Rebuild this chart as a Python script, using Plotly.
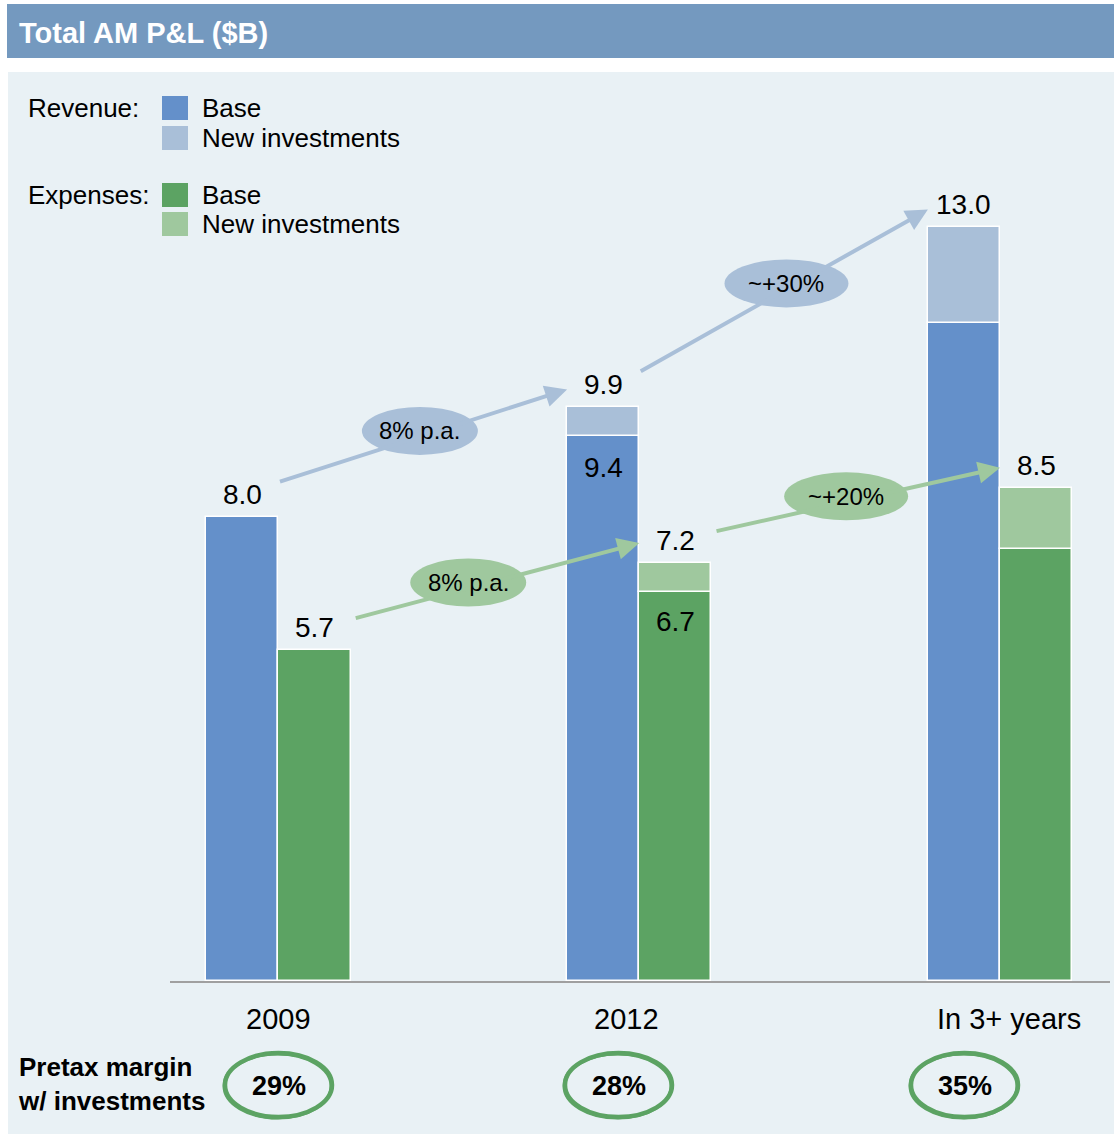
import plotly.graph_objects as go

# ---- data ($B) ----
periods = ["2009", "2012", "In 3+ years"]
revenue_base = [8.0, 9.4, 11.35]
revenue_new = [0.0, 0.5, 1.65]
expenses_base = [5.7, 6.7, 7.45]
expenses_new = [0.0, 0.5, 1.05]
revenue_growth = ["8% p.a.", "~+30%"]
expenses_growth = ["8% p.a.", "~+20%"]
pretax_margin = ["29%", "28%", "35%"]

# ---- styling ----
W, H = 1114, 1134
FONT = "Arial, Liberation Sans, sans-serif"
BLUE, BLUE_LT = "#6490CA", "#A9BFD8"
GREEN, GREEN_LT = "#5CA363", "#9FC89E"
HEADER = "#7499BF"
PANEL = "#E9F1F5"
BAR_W = 0.2
REV_OFF, EXP_OFF = -0.1, 0.1


def px(x):
    return x / W


def py(y):
    return 1 - y / H


rev_total = [round(b + n, 2) for b, n in zip(revenue_base, revenue_new)]
exp_total = [round(b + n, 2) for b, n in zip(expenses_base, expenses_new)]
idx = list(range(len(periods)))


def nz(vals):
    return [v if v else None for v in vals]


fig = go.Figure()
bar_line = dict(color="white", width=1.5)
fig.add_bar(x=[i + REV_OFF for i in idx], y=revenue_base, width=BAR_W,
            marker=dict(color=BLUE, line=bar_line), name="Revenue base")
fig.add_bar(x=[i + REV_OFF for i in idx], y=nz(revenue_new), width=BAR_W,
            marker=dict(color=BLUE_LT, line=bar_line), name="Revenue new")
fig.add_bar(x=[i + EXP_OFF for i in idx], y=expenses_base, width=BAR_W,
            marker=dict(color=GREEN, line=bar_line), name="Expenses base")
fig.add_bar(x=[i + EXP_OFF for i in idx], y=nz(expenses_new), width=BAR_W,
            marker=dict(color=GREEN_LT, line=bar_line), name="Expenses new")

shapes = []
annotations = []

# background panel and header bar
shapes.append(dict(type="rect", xref="paper", yref="paper", x0=px(8), x1=px(W),
                   y0=py(H), y1=py(72), fillcolor=PANEL, line_width=0, layer="below"))
shapes.append(dict(type="rect", xref="paper", yref="paper", x0=px(7), x1=px(W),
                   y0=py(58), y1=py(4), fillcolor=HEADER, line_width=0, layer="below"))
annotations.append(dict(xref="paper", yref="paper", x=px(17), y=py(33), text="<b>Total AM P&L ($B)</b>",
                        showarrow=False, xanchor="left", yanchor="middle",
                        font=dict(family=FONT, size=29, color="white")))

# legend
legend_rows = [
    ("Revenue:", [(BLUE, "Base", 108), (BLUE_LT, "New investments", 138)]),
    ("Expenses:", [(GREEN, "Base", 195), (GREEN_LT, "New investments", 224)]),
]
for group, items in legend_rows:
    annotations.append(dict(xref="paper", yref="paper", x=px(26), y=py(items[0][2]), text=group,
                            showarrow=False, xanchor="left", yanchor="middle",
                            font=dict(family=FONT, size=26, color="black")))
    for color, label, yc in items:
        shapes.append(dict(type="rect", xref="paper", yref="paper", x0=px(162), x1=px(188),
                           y0=py(yc + 12), y1=py(yc - 12), fillcolor=color, line_width=0))
        annotations.append(dict(xref="paper", yref="paper", x=px(200), y=py(yc), text=label,
                                showarrow=False, xanchor="left", yanchor="middle",
                                font=dict(family=FONT, size=26, color="black")))


# growth arrows with their labels
def growth_arrows(totals, off, tail_dx, tail_dy, head_dx, head_dy, labels, ts, color):
    for i, lab in enumerate(labels):
        x0 = i + off + tail_dx
        y0 = totals[i] + tail_dy
        x1 = i + 1 + off + head_dx
        y1 = totals[i + 1] + head_dy
        annotations.append(dict(x=x1, y=y1, ax=x0, ay=y0, xref="x", yref="y", axref="x", ayref="y",
                                text="", showarrow=True, arrowhead=2, arrowsize=1.1,
                                arrowwidth=4, arrowcolor=color, standoff=0, startstandoff=0))
        t = ts[i]
        cx = x0 + t * (x1 - x0)
        cy = y0 + t * (y1 - y0) + 0.1
        hx = (62 if len(lab) < 7 else 58) / 361
        hy = 24 / 58
        shapes.append(dict(type="circle", xref="x", yref="y", x0=cx - hx, x1=cx + hx,
                           y0=cy - hy, y1=cy + hy, fillcolor=color, line_width=0))
        annotations.append(dict(x=cx, y=cy, xref="x", yref="y", text=lab, showarrow=False,
                                font=dict(family=FONT, size=24, color="black")))


growth_arrows(rev_total, REV_OFF, BAR_W / 2, 0.6, -BAR_W / 2, 0.3, revenue_growth, [0.49, 0.51], BLUE_LT)
growth_arrows(exp_total, EXP_OFF, BAR_W / 2 + 0.01, 0.55, -BAR_W / 2, 0.35, expenses_growth, [0.40, 0.46], GREEN_LT)

# value labels
for i in idx:
    annotations.append(dict(x=i + REV_OFF, y=rev_total[i], xref="x", yref="y", text=f"{rev_total[i]:.1f}",
                            showarrow=False, yanchor="bottom", yshift=5,
                            font=dict(family=FONT, size=28, color="black")))
    annotations.append(dict(x=i + EXP_OFF, y=exp_total[i], xref="x", yref="y", text=f"{exp_total[i]:.1f}",
                            showarrow=False, yanchor="bottom", yshift=5,
                            font=dict(family=FONT, size=28, color="black")))
    if revenue_new[i] and i == 1:
        annotations.append(dict(x=i + REV_OFF, y=revenue_base[i], xref="x", yref="y",
                                text=f"{revenue_base[i]:.1f}", showarrow=False, yanchor="top", yshift=-14,
                                font=dict(family=FONT, size=28, color="black")))
        annotations.append(dict(x=i + EXP_OFF, y=expenses_base[i], xref="x", yref="y",
                                text=f"{expenses_base[i]:.1f}", showarrow=False, yanchor="top", yshift=-12,
                                font=dict(family=FONT, size=28, color="black")))

# period labels under the axis
label_shift = [0, -13, 9]
for i, p in enumerate(periods):
    annotations.append(dict(x=i, y=py(1019), xref="x", yref="paper", text=p, showarrow=False,
                            xshift=label_shift[i], xanchor="center", yanchor="middle",
                            font=dict(family=FONT, size=29, color="black")))

# pretax margin row, each value circled by a brush-like ring
annotations.append(dict(xref="paper", yref="paper", x=px(16), y=py(1084),
                        text="<b>Pretax margin<br>w/ investments</b>", showarrow=False,
                        xanchor="left", yanchor="middle", align="left",
                        font=dict(family=FONT, size=26, color="black")))
margin_cx = [279, 619, 965]
for cxp, m in zip(margin_cx, pretax_margin):
    shapes.append(dict(type="circle", xref="paper", yref="paper", x0=px(cxp - 54), x1=px(cxp + 53),
                       y0=py(1117), y1=py(1053), line=dict(color=GREEN, width=4.5)))
    shapes.append(dict(type="circle", xref="paper", yref="paper", x0=px(cxp - 55), x1=px(cxp + 52),
                       y0=py(1118), y1=py(1054), line=dict(color=GREEN, width=3)))
    annotations.append(dict(xref="paper", yref="paper", x=px(cxp), y=py(1086), text=f"<b>{m}</b>",
                            showarrow=False, xanchor="center", yanchor="middle",
                            font=dict(family=FONT, size=27, color="black")))

fig.update_layout(
    width=W, height=H, margin=dict(l=0, r=0, t=0, b=0),
    paper_bgcolor="white", plot_bgcolor="rgba(0,0,0,0)",
    barmode="relative", bargap=0, showlegend=False,
    xaxis=dict(domain=[px(170), px(1110)], range=[-0.3006, 2.3047], showline=True,
               linecolor="#A0A0A0", linewidth=2, showticklabels=False, ticks="",
               showgrid=False, zeroline=False, fixedrange=True),
    yaxis=dict(domain=[py(981), py(72)], range=[0, 909 / 58], visible=False,
               showgrid=False, zeroline=False, fixedrange=True),
    shapes=shapes, annotations=annotations,
)

fig.write_html("out.html")
